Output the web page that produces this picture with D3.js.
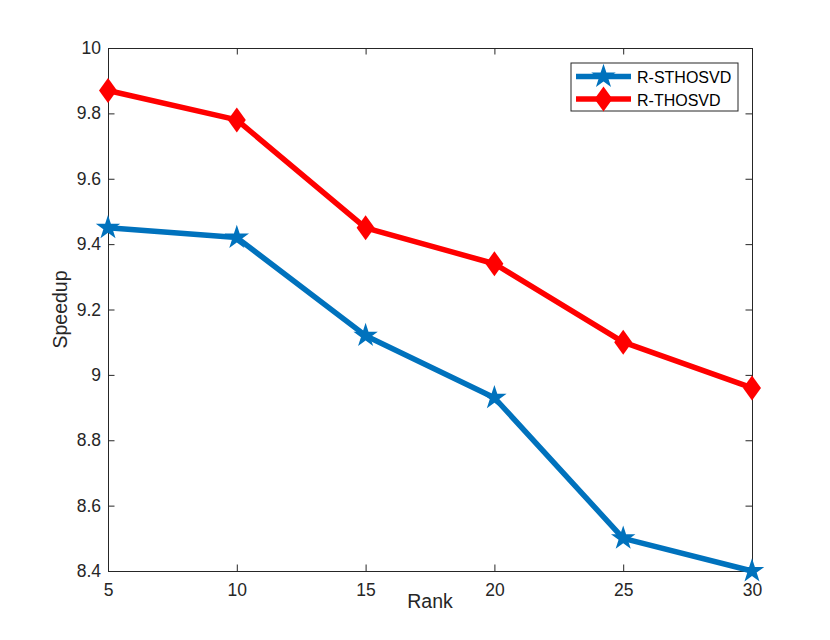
<!DOCTYPE html>
<html>
<head>
<meta charset="utf-8">
<script src="https://cdn.jsdelivr.net/npm/d3@7"></script>
<style>
  html, body { margin: 0; padding: 0; background: #ffffff; }
  svg { display: block; font-family: "Liberation Sans", Arial, Helvetica, sans-serif; }
</style>
</head>
<body>
<svg id="chart" width="830" height="640"></svg>
<script>
// Data
const ranks = [5, 10, 15, 20, 25, 30];
const sthosvd = [9.45, 9.42, 9.12, 8.93, 8.50, 8.40];
const thosvd = [9.87, 9.78, 9.45, 9.34, 9.10, 8.96];
const yTicks = [8.4, 8.6, 8.8, 9, 9.2, 9.4, 9.6, 9.8, 10];
const seriesNames = ['R-STHOSVD', 'R-THOSVD'];

const svg = d3.select('#chart');
const margin = { top: 48, right: 78, bottom: 69, left: 108 };
const width = 830 - margin.left - margin.right;
const height = 640 - margin.top - margin.bottom;

const g = svg.append('g')
    .attr('transform', `translate(${margin.left},${margin.top})`);

const x = d3.scaleLinear().domain([5, 30]).range([0, width]);
const y = d3.scaleLinear().domain([8.4, 10]).range([height, 0]);

const axisColor = '#262626';
const tickLen = 6.5;

// Axes (MATLAB style: box on, ticks inside)
const fmtY = d => String(+d.toFixed(1));

const xAxis = g.append('g')
    .attr('transform', `translate(0,${height})`)
    .call(d3.axisBottom(x).tickValues(ranks).tickSizeInner(-tickLen).tickSizeOuter(0).tickPadding(13));
const xTop = g.append('g')
    .call(d3.axisTop(x).tickValues(ranks).tickSizeInner(-tickLen).tickSizeOuter(0).tickFormat(''));
const yAxis = g.append('g')
    .call(d3.axisLeft(y).tickValues(yTicks).tickFormat(fmtY).tickSizeInner(-tickLen).tickSizeOuter(0).tickPadding(7));
const yRight = g.append('g')
    .attr('transform', `translate(${width},0)`)
    .call(d3.axisRight(y).tickValues(yTicks).tickSizeInner(-tickLen).tickSizeOuter(0).tickFormat(''));

[xAxis, xTop, yAxis, yRight].forEach(a => {
    a.select('.domain').attr('stroke', axisColor).attr('stroke-width', 1);
    a.selectAll('.tick line').attr('stroke', axisColor).attr('stroke-width', 1);
    a.selectAll('text')
        .style('fill', axisColor)
        .style('font-size', '17.5px')
        .style('font-family', '"Liberation Sans", Arial, sans-serif');
});

// Axis labels
g.append('text')
    .attr('x', width / 2)
    .attr('y', height + 37)
    .attr('text-anchor', 'middle')
    .style('fill', axisColor)
    .style('font-size', '19.5px')
    .text('Rank');

g.append('text')
    .attr('transform', 'rotate(-90)')
    .attr('x', -height / 2)
    .attr('y', -41)
    .attr('text-anchor', 'middle')
    .style('fill', axisColor)
    .style('font-size', '19.5px')
    .text('Speedup');

// Marker shapes
const star = d3.symbol().type(d3.symbolStar).size(185);
function diamondPath(w, h) {
    return `M0,${-h}L${w},0L0,${h}L${-w},0Z`;
}

const series = [
    { name: seriesNames[0], values: sthosvd, color: '#0072BD', marker: 'star' },
    { name: seriesNames[1], values: thosvd, color: '#FF0000', marker: 'diamond' }
];

const line = d3.line()
    .x((d, i) => x(ranks[i]))
    .y(d => y(d));

function addMarker(sel, s) {
    if (s.marker === 'star') {
        sel.append('path').attr('d', star).attr('fill', s.color);
    } else {
        sel.append('path').attr('d', diamondPath(9, 12.5)).attr('fill', s.color);
    }
}

series.forEach(s => {
    g.append('path')
        .datum(s.values)
        .attr('d', line)
        .attr('fill', 'none')
        .attr('stroke', s.color)
        .attr('stroke-width', 5.5)
        .attr('stroke-linejoin', 'round');

    g.selectAll(null)
        .data(s.values)
        .enter()
        .append('g')
        .attr('transform', (d, i) => `translate(${x(ranks[i])},${y(d)})`)
        .each(function() { addMarker(d3.select(this), s); });
});

// Legend
const legend = g.append('g')
    .attr('transform', `translate(${width - 181},${15})`);

legend.append('rect')
    .attr('width', 167)
    .attr('height', 48)
    .attr('fill', '#ffffff')
    .attr('stroke', axisColor)
    .attr('stroke-width', 1);

series.forEach((s, i) => {
    const row = legend.append('g')
        .attr('transform', `translate(0,${13.5 + i * 22.5})`);
    row.append('line')
        .attr('x1', 5).attr('x2', 60)
        .attr('stroke', s.color)
        .attr('stroke-width', 5.5);
    const m = row.append('g').attr('transform', 'translate(32.5,0)');
    addMarker(m, s);
    row.append('text')
        .attr('x', 66)
        .attr('y', 6.5)
        .style('fill', '#000000')
        .style('font-size', '16px')
        .text(s.name);
});
</script>
</body>
</html>
